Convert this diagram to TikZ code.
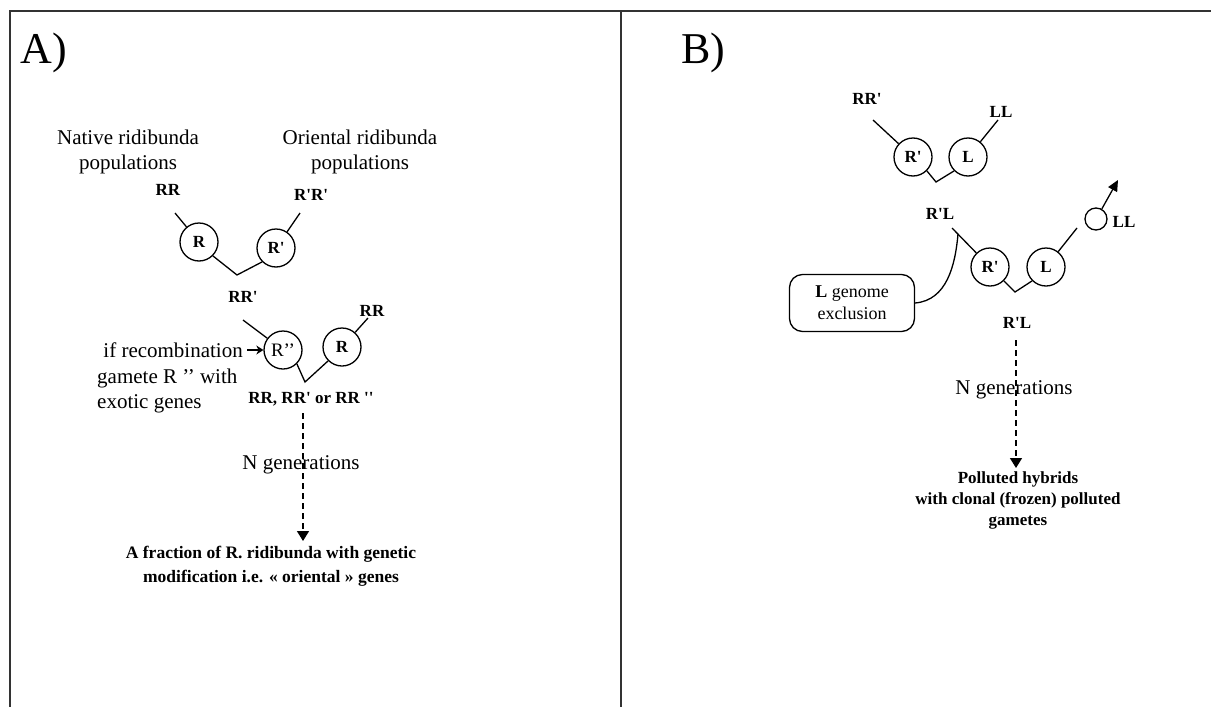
\documentclass[tikz,border=0pt]{standalone}
\usepackage{fontspec}
\setmainfont{Liberation Serif}
\usetikzlibrary{arrows.meta}
\newcommand\myq{\textquotesingle}
\begin{document}
\begin{tikzpicture}[x=1pt,y=-1pt,
  every node/.style={inner sep=0pt},
  gcirc/.style={circle,draw,line width=1.3pt,minimum size=38pt,inner sep=0pt,font=\fontsize{17}{20}\selectfont\bfseries},
  scirc/.style={circle,draw,line width=1.3pt,minimum size=22pt,inner sep=0pt},
  lab/.style={font=\fontsize{17}{20}\selectfont\bfseries},
  txt/.style={font=\fontsize{21}{25}\selectfont,align=center},
  btxt/.style={font=\fontsize{17}{22}\selectfont\bfseries,align=center},
  conn/.style={line width=1.3pt},
  dconn/.style={line width=1.5pt,dash pattern=on 6pt off 4pt,-{Triangle[width=12pt,length=10pt]}},
  framel/.style={line width=2pt,draw=black!80},
  panel/.style={font=\fontsize{44}{50}\selectfont}]
\useasboundingbox (0,0) rectangle (1211,707);
% frame
\draw[framel] (10,707) -- (10,11) -- (1211,11);
\draw[framel] (621,11) -- (621,707);
\node[panel] (pA) at (44,53) {A)};
\node[panel] (pB) at (703,53) {B)};

% ---------------- Panel A ----------------
\node[txt] (nat) at (128,152) {Native ridibunda\\populations};
\node[txt] (ori) at (360,152) {Oriental ridibunda\\populations};
\node[lab] (RR1) at (168,190) {RR};
\node[lab] (RpRp) at (311,195) {R\myq R\myq};
\coordinate (a1) at (175,213);
\coordinate (a2) at (300,213);
\node[gcirc] (R1) at (199,242) {R};
\node[gcirc] (Rp1) at (276,248) {R\myq};
\coordinate (v1) at (237,275);
\draw[conn] (a1) -- (R1);
\draw[conn] (a2) -- (Rp1);
\draw[conn] (R1.-45) -- (v1) -- (Rp1.-135);
\node[lab] (RRp) at (243,297) {RR\myq};

\node[lab] (RR2) at (372,311) {RR};
\coordinate (a3) at (243,320);
\coordinate (a4) at (368,318);
\node[gcirc,font=\fontsize{19}{22}\selectfont] (Rpp) at (283,350) {R’’};
\node[gcirc] (R2) at (342,347) {R};
\coordinate (v2) at (305,382);
\draw[conn] (a3) -- (Rpp);
\draw[conn] (a4) -- (R2);
\draw[conn] (Rpp.-45) -- (v2) -- (R2.-135);

\node[txt,anchor=east] (rec) at (243,350) {if recombination};
\coordinate (arrS) at (247,350);
\draw[line width=1.6pt,-{Stealth[length=7pt,width=9pt]}] (arrS) -- (Rpp.west);
\node[txt,align=left,anchor=north west] (gam) at (97,369) {gamete R ’’ with\\exotic genes};

\node[lab] (res) at (311,399) {RR, RR\myq{} or RR \myq\myq};
\coordinate (d1) at (303,413);
\coordinate (d2) at (303,541);
\draw[dconn] (d1) -- (d2);
\node[txt] (ngA) at (301,465) {N generations};
\node[btxt,font=\fontsize{17.5}{24}\selectfont\bfseries] (finA) at (271,566) {A fraction of R. ridibunda with genetic\\modification i.e. « oriental » genes};

% ---------------- Panel B ----------------
\node[lab] (RRpB) at (867,99) {RR\myq};
\node[lab] (LL1) at (1001,112) {LL};
\coordinate (b1) at (873,120);
\coordinate (b2) at (998,120);
\node[gcirc] (RpB1) at (913,157) {R\myq};
\node[gcirc] (LB1) at (968,157) {L};
\coordinate (v3) at (936,182);
\draw[conn] (b1) -- (RpB1);
\draw[conn] (b2) -- (LB1);
\draw[conn] (RpB1.-45) -- (v3) -- (LB1.-135);

\node[lab] (RpL1) at (940,214) {R\myq L};
\coordinate (b3) at (952,228);
\node[gcirc] (RpB2) at (990,267) {R\myq};
\node[gcirc] (LB2) at (1046,267) {L};
\coordinate (b4) at (1077,228);
\coordinate (v4) at (1015,292);
\draw[conn] (b3) -- (RpB2);
\draw[conn] (LB2) -- (b4);
\draw[conn] (RpB2.-45) -- (v4) -- (LB2.-135);

\node[scirc] (sc) at (1096,219) {};
\coordinate (arrE) at (1118,180);
\draw[conn,-{Triangle[width=10pt,length=11pt]}] (sc.60) -- (arrE);
\node[lab] (LL2) at (1124,222) {LL};

\node[draw,line width=1.3pt,rounded corners=13pt,minimum width=125pt,minimum height=57pt,
      font=\fontsize{18}{22}\selectfont,align=center] (excl) at (852,303) {\textbf{L} genome\\exclusion};
\coordinate (cE) at (958,234);
\draw[conn] (excl.east) to[out=5,in=-95] (cE);

\node[lab] (RpL2) at (1017,323) {R\myq L};
\coordinate (d3) at (1016,340);
\coordinate (d4) at (1016,468);
\draw[dconn] (d3) -- (d4);
\node[txt] (ngB) at (1014,390) {N generations};
\node[btxt,font=\fontsize{17}{21}\selectfont\bfseries] (finB) at (1018,500) {Polluted hybrids\\with clonal (frozen) polluted\\gametes};
\end{tikzpicture}
\end{document}
